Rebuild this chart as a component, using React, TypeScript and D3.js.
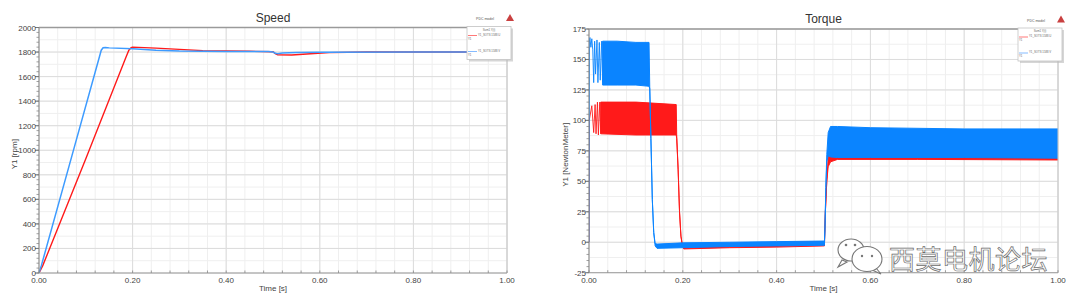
import React from "react";
import * as d3 from "d3";

// ---------- DATA ----------
const xTicks = [0, 0.2, 0.4, 0.6, 0.8, 1.0];
const speedTicks = [0, 200, 400, 600, 800, 1000, 1200, 1400, 1600, 1800, 2000];
const torqueTicks = [-25, 0, 25, 50, 75, 100, 125, 150, 175];

// speed [t, rpm]
const speedBlue: [number, number][] = [
  [0, 0], [0.005, 60], [0.07, 950], [0.129, 1760], [0.133, 1815], [0.137, 1835],
  [0.142, 1838], [0.15, 1834], [0.2, 1826],
  [0.25, 1814], [0.3, 1808], [0.4, 1805], [0.49, 1804], [0.5, 1800],
  [0.505, 1790], [0.51, 1787], [0.52, 1792], [0.55, 1797], [0.6, 1799],
  [0.8, 1800], [1.0, 1800],
];
const speedRed: [number, number][] = [
  [0, 0], [0.008, 60], [0.1, 930], [0.186, 1760], [0.192, 1815], [0.197, 1836],
  [0.2, 1840], [0.25, 1832], [0.3, 1822], [0.35, 1812],
  [0.45, 1806], [0.5, 1803], [0.505, 1786], [0.51, 1778], [0.54, 1776],
  [0.58, 1786], [0.62, 1795], [0.7, 1800], [1.0, 1800],
];

// torque: early individual spikes [t, Nm]
const torqueBlueEarly: [number, number][] = [
  [0, 0], [0.001, 166], [0.002, 168], [0.004, 160], [0.006, 167], [0.008, 158],
  [0.01, 131], [0.012, 165], [0.014, 138], [0.017, 166], [0.019, 131],
  [0.022, 164], [0.024, 133], [0.027, 165], [0.029, 131],
];
const torqueRedEarly: [number, number][] = [
  [0, 0], [0.0005, 100], [0.006, 112], [0.01, 90], [0.013, 113], [0.015, 89],
  [0.018, 115], [0.02, 88], [0.023, 115], [0.025, 89],
];
// torque: oscillation envelope [t, low, high]
const torqueBlueBand: [number, number, number][] = [
  [0.029, 129, 165], [0.06, 129, 165], [0.1, 129, 164], [0.128, 128, 164],
  [0.1295, 126, 128], [0.132, 85, 85], [0.135, 35, 35], [0.138, 8, 8],
  [0.141, -3, -1], [0.145, -5, -1.5], [0.2, -4.5, -0.5], [0.3, -3.5, 0],
  [0.4, -3, 0.5], [0.502, -2.5, 1], [0.503, 10, 10], [0.505, 45, 45],
  [0.507, 66, 72], [0.51, 71, 90], [0.515, 70, 95], [0.53, 69.5, 95],
  [0.6, 69.5, 94], [0.8, 69.5, 93], [1.0, 69, 93],
];
const torqueRedBand: [number, number, number][] = [
  [0.025, 89, 115], [0.1, 88, 115], [0.186, 88, 113], [0.187, 85, 88],
  [0.19, 60, 60], [0.193, 25, 25], [0.196, 5, 5], [0.199, -3, -2],
  [0.202, -5.5, -3], [0.3, -4.5, -1], [0.4, -4, 0], [0.502, -3, 0.5],
  [0.504, 25, 25], [0.507, 50, 50], [0.51, 62, 70], [0.515, 66, 92],
  [0.53, 68, 93], [0.7, 68, 92], [1.0, 67.5, 92],
];

const FONT = "'Liberation Sans', Arial, sans-serif";

type PanelProps = {
  left: number; right: number; top: number; bottom: number;
  yDomain: [number, number]; yTicks: number[]; yMinorStep: number;
  title: string; yLabel: string; yLabelX: number;
  children: (x: d3.ScaleLinear<number, number>, y: d3.ScaleLinear<number, number>) => React.ReactNode;
};

function Panel(p: PanelProps) {
  const x = d3.scaleLinear().domain([0, 1]).range([p.left, p.right]);
  const y = d3.scaleLinear().domain(p.yDomain).range([p.bottom, p.top]);
  const xMinor = d3.range(0, 1.0001, 0.04);
  const yMinor = d3.range(p.yDomain[0], p.yDomain[1] + 1e-6, p.yMinorStep);
  const yHalf = d3.range(p.yDomain[0], p.yDomain[1] + 1e-6, (p.yTicks[1] - p.yTicks[0]) / 2);
  const cx = (p.left + p.right) / 2;
  const clipId = "clip" + p.title;
  return (
    <g>
      <defs>
        <clipPath id={clipId}>
          <rect x={p.left} y={p.top} width={p.right - p.left} height={p.bottom - p.top} />
        </clipPath>
      </defs>
      <rect x={p.left} y={p.top} width={p.right - p.left} height={p.bottom - p.top} fill="#fff" />
      {xMinor.map((v, i) => (
        <line key={"xm" + i} x1={x(v)} x2={x(v)} y1={p.top} y2={p.bottom} stroke="#efefef" />
      ))}
      {yHalf.map((v, i) => (
        <line key={"yh" + i} x1={p.left} x2={p.right} y1={y(v)} y2={y(v)} stroke="#efefef" />
      ))}
      {xTicks.map((v, i) => (
        <line key={"xg" + i} x1={x(v)} x2={x(v)} y1={p.top} y2={p.bottom} stroke="#dcdcdc" />
      ))}
      {p.yTicks.map((v, i) => (
        <line key={"yg" + i} x1={p.left} x2={p.right} y1={y(v)} y2={y(v)} stroke="#dcdcdc" />
      ))}
      <g clipPath={`url(#${clipId})`}>{p.children(x, y)}</g>
      {/* frame */}
      <line x1={p.left} x2={p.right} y1={p.top} y2={p.top} stroke="#9a9a9a" strokeWidth={1.5} />
      <line x1={p.right} x2={p.right} y1={p.top} y2={p.bottom} stroke="#c8c8c8" />
      <line x1={p.left} x2={p.right} y1={p.bottom} y2={p.bottom} stroke="#a0a0a0" />
      <line x1={p.left} x2={p.left} y1={p.top} y2={p.bottom} stroke="#8a8a8a" />
      {/* minor ticks */}
      {yMinor.map((v, i) => (
        <line key={"ymt" + i} x1={p.left - 2.5} x2={p.left} y1={y(v)} y2={y(v)} stroke="#888" strokeWidth={0.8} />
      ))}
      {xMinor.map((v, i) => (
        <line key={"xmt" + i} x1={x(v)} x2={x(v)} y1={p.bottom - 2.5} y2={p.bottom} stroke="#888" strokeWidth={0.8} />
      ))}
      {p.yTicks.map((v, i) => (
        <line key={"ymj" + i} x1={p.left - 4} x2={p.left} y1={y(v)} y2={y(v)} stroke="#777" />
      ))}
      {/* tick labels */}
      {p.yTicks.map((v, i) => (
        <text key={"yl" + i} x={p.left - 3} y={y(v) + 3} fontSize={8} fill="#444" textAnchor="end" fontFamily={FONT}>
          {v}
        </text>
      ))}
      {xTicks.map((v, i) => (
        <text key={"xl" + i} x={x(v)} y={p.bottom + 10} fontSize={8} fill="#444" textAnchor="middle" fontFamily={FONT}>
          {v.toFixed(2)}
        </text>
      ))}
      <text x={cx} y={p.bottom + 18} fontSize={8} fill="#444" textAnchor="middle" fontFamily={FONT}>Time [s]</text>
      <text transform={`translate(${p.yLabelX},${(p.top + p.bottom) / 2 + 4}) rotate(-90)`} fontSize={8} fill="#444" textAnchor="middle" fontFamily={FONT}>
        {p.yLabel}
      </text>
      <text x={cx} y={p.top - 6} fontSize={12} fill="#333" textAnchor="middle" fontFamily={FONT}>{p.title}</text>
      {/* legend */}
      <g>
        <rect x={p.right - 38} y={p.top + 1} width={44} height={33} fill="#bbb" opacity={0.6} />
        <rect x={p.right - 40} y={p.top - 1} width={44} height={33} fill="#fff" stroke="#c4c4c4" strokeWidth={0.8} />
        <text x={p.right - 18} y={p.top + 3} fontSize={2.8} fill="#666" textAnchor="middle" fontFamily={FONT}>Sum1 Y(t)</text>
        <line x1={p.right - 39} x2={p.right - 30} y1={p.top + 8} y2={p.top + 8} stroke="#ff5555" strokeWidth={0.8} />
        <text x={p.right - 29} y={p.top + 8} fontSize={2.8} fill="#666" fontFamily={FONT}>Y1_SOTS 1588 U</text>
        <text x={p.right - 39} y={p.top + 12} fontSize={2.8} fill="#666" fontFamily={FONT}>Y1</text>
        <line x1={p.right - 39} x2={p.right - 30} y1={p.top + 24} y2={p.top + 24} stroke="#66aaff" strokeWidth={0.8} />
        <text x={p.right - 29} y={p.top + 24} fontSize={2.8} fill="#666" fontFamily={FONT}>Y1_SOTS 1588 V</text>
        <text x={p.right - 39} y={p.top + 28} fontSize={2.8} fill="#666" fontFamily={FONT}>Y1</text>
        <text x={p.right - 22} y={p.top - 7.5} fontSize={3.5} fill="#555" textAnchor="middle" fontFamily={FONT}>PDC model</text>
        <path d={`M${p.right + 3},${p.top - 13.5} L${p.right - 1},${p.top - 6.5} L${p.right + 7},${p.top - 6.5} Z`} fill="#c94040" />
      </g>
    </g>
  );
}

export default function App() {
  const lineGen = (x: any, y: any) =>
    d3.line<[number, number]>().x((d) => x(d[0])).y((d) => y(d[1]));
  const areaGen = (x: any, y: any) =>
    d3.area<[number, number, number]>().x((d) => x(d[0])).y0((d) => y(d[1])).y1((d) => y(d[2]));
  const RED = "#ff1a1a";
  const BLUE = "#0a84ff";
  const SBLUE = "#3d9bff";
  return (
    <svg width={1080} height={306} style={{ position: "absolute", left: 0, top: 0, background: "#fff" }}>
      <rect width={1080} height={306} fill="#fff" />
      <Panel left={39} right={507} top={27.5} bottom={273} yDomain={[0, 2000]} yTicks={speedTicks} yMinorStep={40}
        title="Speed" yLabel="Y1 [rpm]" yLabelX={17}>
        {(x, y) => (
          <g>
            <path d={lineGen(x, y)(speedRed) || ""} fill="none" stroke={RED} strokeWidth={1.4} />
            <path d={lineGen(x, y)(speedBlue) || ""} fill="none" stroke={SBLUE} strokeWidth={1.5} />
          </g>
        )}
      </Panel>
      <Panel left={589} right={1058} top={29} bottom={272.7} yDomain={[-25, 175]} yTicks={torqueTicks} yMinorStep={5}
        title="Torque" yLabel="Y1 [NewtonMeter]" yLabelX={568}>
        {(x, y) => (
          <g>
            <path d={lineGen(x, y)(torqueRedEarly) || ""} fill="none" stroke={RED} strokeWidth={0.9} />
            <path d={areaGen(x, y)(torqueRedBand) || ""} fill={RED} stroke={RED} strokeWidth={1} />
            <path d={lineGen(x, y)(torqueBlueEarly) || ""} fill="none" stroke={BLUE} strokeWidth={0.9} />
            <path d={areaGen(x, y)(torqueBlueBand) || ""} fill={BLUE} stroke={BLUE} strokeWidth={1} />
          </g>
        )}
      </Panel>
      {/* watermark */}
      <g>
        <g stroke="#777" strokeWidth={1.1} fill="#fff">
          <path d="M842,260 L838,267 L847,262 Z" />
          <ellipse cx={851} cy={250} rx={13} ry={11} />
          <path d="M876,268 L881,274 L872,270 Z" />
          <ellipse cx={867} cy={259} rx={15} ry={12.5} />
        </g>
        <g fill="#777">
          <circle cx={846} cy={245} r={1.3} />
          <circle cx={855} cy={245} r={1.3} />
          <circle cx={862} cy={256} r={1.2} />
          <circle cx={872} cy={256} r={1.2} />
        </g>
        <text x={889} y={269} fontSize={26} fontFamily="'Noto Sans CJK SC', sans-serif" fill="#fff" stroke="#6a6a6a"
          strokeWidth={0.7} letterSpacing={0.5}>
          西莫电机论坛
        </text>
      </g>
    </svg>
  );
}
